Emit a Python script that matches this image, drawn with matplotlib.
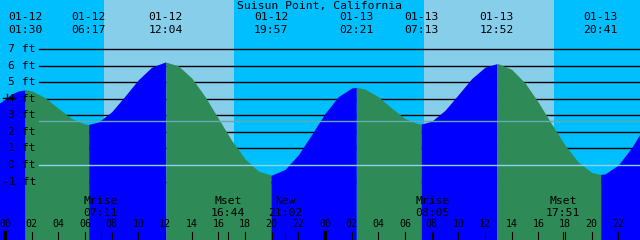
import numpy as np
import matplotlib
matplotlib.use('Agg')
import matplotlib.pyplot as plt

# tide curve (hours since 01-12 00:00, feet)
hours = [-0.5, 0, 0.5, 1, 1.5, 2, 3, 4, 5, 6, 6.283,
         7, 8, 9, 10, 11, 12, 12.067,
         13, 14, 15, 16, 17, 18, 19, 19.95,
         20, 21, 22, 23, 24, 25, 26, 26.35,
         27, 28, 29, 30, 31, 31.217,
         32, 33, 34, 35, 36, 36.867,
         37, 38, 39, 40, 41, 42, 43, 44, 44.683,
         45, 46, 47, 48]
heights = [3.7, 4.0, 4.3, 4.48, 4.55, 4.49, 4.08, 3.43, 2.81, 2.48, 2.46,
           2.60, 3.22, 4.17, 5.16, 5.92, 6.229, 6.23,
           6.0, 5.27, 4.15, 2.82, 1.49, 0.37, -0.37, -0.61,
           -0.609, -0.27, 0.62, 1.85, 3.12, 4.14, 4.66, 4.7,
           4.6, 4.13, 3.44, 2.81, 2.49, 2.48,
           2.65, 3.31, 4.26, 5.23, 5.92, 6.13,
           6.125, 5.79, 4.97, 3.80, 2.48, 1.20, 0.17, -0.45, -0.57,
           -0.54, 0.0, 1.05, 2.38]

tide_dates = ['01-12', '01-12', '01-12', '01-12', '01-13', '01-13', '01-13', '01-13']
tide_times = ['01:30', '06:17', '12:04', '19:57', '02:21', '07:13', '12:52', '20:41']

moon_names = ['Mrise', 'Mset', 'New', 'Mrise', 'Mset']
moon_times = ['07:11', '16:44', '21:02', '08:05', '17:51']
moon_days = [0, 0, 0, 1, 1]

sunrise = ['07:26', '07:26']
sunset = ['17:11', '17:12']

ft_levels = [7, 6, 5, 4, 3, 2, 1, 0, -1]
mean_level = 2.68

night_col = '#00BFFF'
day_col = '#87CEEB'
rise_col = '#0000FF'
fall_col = '#2E8B57'


def to_h(s, day=0):
    hh, mm = s.split(':')
    return day * 24 + int(hh) + int(mm) / 60


# pixel -> data helpers (640x240 canvas)
PX_H = 13.333
def hx(px):
    return (px - 5) / PX_H
def fy(py):
    return (165 - py) / 16.52


fig = plt.figure(figsize=(6.4, 2.4), dpi=100)
ax = fig.add_axes([0, 0, 1, 1])
ax.set_xlim(hx(0), hx(640))
ax.set_ylim(fy(240), fy(0))
ax.axis('off')
ax.add_patch(plt.Rectangle((hx(0), fy(240)), hx(640) - hx(0), fy(0) - fy(240),
                           color=night_col, zorder=0))

for d in range(2):
    ax.axvspan(to_h(sunrise[d], d), to_h(sunset[d], d), color=day_col, lw=0, zorder=1)

# grid lines behind the tide
for lv in ft_levels:
    if lv == 0:
        continue
    ax.plot([hx(39), hx(640)], [lv, lv], color='black', lw=1.0, zorder=2)

# tide fill: blue while rising, green while falling
t = np.array(hours)
v = np.array(heights)
direc = np.sign(np.diff(v))
start = 0
for i in range(1, len(direc) + 1):
    if i == len(direc) or direc[i] != direc[start]:
        col = rise_col if direc[start] > 0 else fall_col
        ax.fill_between(t[start:i + 1], v[start:i + 1], fy(260), color=col, lw=0, zorder=3)
        start = i

ax.plot([hx(39), hx(640)], [0, 0], color='#8CD3EE', lw=1.0, zorder=4)
ax.plot([hx(39), hx(640)], [mean_level, mean_level], color='#66AAB0', lw=1.0, zorder=4)

mono = 'DejaVu Sans Mono'
fs = 8.2
for lv in ft_levels:
    ax.text(hx(36), lv, f'{lv} ft', ha='right', va='center', fontsize=fs,
            family=mono, zorder=5)
# small marker at the left
ax.plot([hx(3.3), hx(15)], [fy(97.7), fy(97.7)], color='black', lw=1.0, zorder=5)
ax.plot([hx(7.3), hx(7.3)], [fy(94), fy(102)], color='black', lw=1.0, zorder=5)

ax.text(hx(320), fy(6), 'Suisun Point, California', ha='center', va='center',
        fontsize=fs, family=mono, zorder=5)

for dt, tm in zip(tide_dates, tide_times):
    h = to_h(tm, 0 if dt == '01-12' else 1)
    ax.text(h, fy(17), dt, ha='center', va='center', fontsize=fs, family=mono, zorder=5)
    ax.text(h, fy(30), tm, ha='center', va='center', fontsize=fs, family=mono, zorder=5)

for nm, tm, d in zip(moon_names, moon_times, moon_days):
    h = to_h(tm, d)
    ax.text(h, fy(201), nm, ha='center', va='center', fontsize=fs, family=mono, zorder=5)
    ax.text(h, fy(212.5), tm, ha='center', va='center', fontsize=fs, family=mono, zorder=5)
    ax.plot([h, h], [fy(232), fy(241)], color='black', lw=0.8, zorder=5)

for h in range(0, 50, 2):
    ax.text(h, fy(224), f'{h % 24:02d}', ha='center', va='center', fontsize=7.2,
            family=mono, zorder=5)
    ax.plot([h, h], [fy(232), fy(241)], color='black',
            lw=2.4 if h % 24 == 0 else 0.8, zorder=5)

fig.savefig('out.png', dpi=100)
